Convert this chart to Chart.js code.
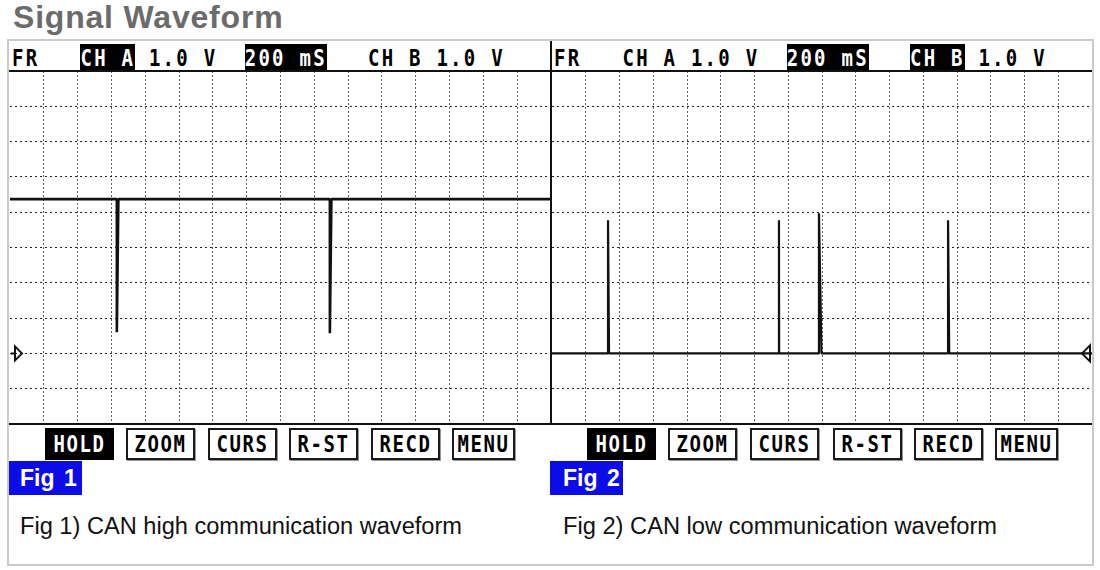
<!DOCTYPE html>
<html>
<head>
<meta charset="utf-8">
<script src="https://cdn.jsdelivr.net/npm/chart.js@4.4.1/dist/chart.umd.min.js"></script>
<style>
  html, body { margin: 0; padding: 0; background: #fff; }
  body { width: 1100px; height: 570px; position: relative; overflow: hidden; font-family: "Liberation Sans", Arial, sans-serif; }
  .abs { position: absolute; }
  #title { left: 13px; top: 1px; font-size: 32px; line-height: 32px; font-weight: bold; color: #6b6b6b; letter-spacing: 0.8px; }
  #frame { left: 7px; top: 39px; width: 1083px; height: 523px; border: 2px solid #cacaca; }
  .hdr { position: absolute; top: 44px; height: 21px; line-height: 21px; font: bold 19px "DejaVu Sans Mono", monospace; letter-spacing: 2.25px; white-space: pre; transform: scaleY(1.2); transform-origin: 0 0; color: #000; }
  .hdr .inv { display: inline-block; background: #000; color: #fff; }
  .rule { position: absolute; background: #111; z-index: 5; }
  .wrap { position: absolute; top: 71px; height: 353px; }
  .btn { position: absolute; top: 428px; height: 28px; border: 2px solid #1a1a1a; box-shadow: 1px 1px 0 #999; background: #fff; color: #000;
         display: flex; align-items: center; justify-content: center; font: bold 19px "DejaVu Sans Mono", monospace; letter-spacing: 1.6px; }
  .btn span { display: inline-block; line-height: 21px; transform: scaleY(1.2); }
  .btn.on { background: #000; color: #fff; border-color: #000; box-shadow: none; }
  .fig { position: absolute; top: 461px; height: 34px; width: 73px; background: #0c0ce6; color: #fff; font-weight: bold; font-size: 23px; line-height: 34px; box-sizing: border-box; word-spacing: 3px; }
  .cap { position: absolute; top: 514px; font-size: 23px; line-height: 24px; white-space: nowrap; color: #111; transform-origin: 0 0; }
</style>
</head>
<body>
<div id="title" class="abs">Signal Waveform</div>
<div id="frame" class="abs"></div>

<div class="wrap" style="left:10px;width:541px;"><canvas id="scopeA"></canvas></div>
<div class="wrap" style="left:552px;width:540px;"><canvas id="scopeB"></canvas></div>

<div class="rule" style="left:9px;top:70px;width:1083px;height:2px;"></div>
<div class="rule" style="left:9px;top:423px;width:1083px;height:2px;"></div>
<div class="rule" style="left:550px;top:41px;width:2px;height:383px;"></div>

<div id="hdrA" class="hdr" style="left:12px;"></div>
<div id="hdrB" class="hdr" style="left:554px;"></div>

<div id="btns"></div>

<div class="fig" style="left:9px;padding-left:11px;">Fig 1</div>
<div class="fig" style="left:550px;padding-left:13px;">Fig 2</div>

<div class="cap" style="left:20px;" data-w="442">Fig 1) CAN high communication waveform</div>
<div class="cap" style="left:563px;" data-w="434">Fig 2) CAN low communication waveform</div>

<script>
// time in ms (200 ms/div, 16 div), volts (1.0 V/div, ground at 0)
const timeA = [0, 632, 632, 641, 1892, 1892, 1901, 3200];
const voltA = [4.37, 4.37, 0.6, 4.37, 4.37, 0.57, 4.37, 4.37];

const timeB = [0, 332, 332, 338, 1345, 1345, 1346, 1582, 1582, 1597, 2347, 2347, 2354, 3200];
const voltB = [0, 0, 3.77, 0, 0, 3.77, 0, 0, 3.97, 0, 0, 3.77, 0, 0];

// header readout: [text, highlighted]
const hdrA = [['FR   ', false], ['CH A', true], [' 1.0 V  ', false], ['200 mS', true], ['   CH B 1.0 V', false]];
const hdrB = [['FR   CH A 1.0 V  ', false], ['200 mS', true], ['   ', false], ['CH B', true], [' 1.0 V', false]];

const buttons = ['HOLD', 'ZOOM', 'CURS', 'R-ST', 'RECD', 'MENU'];

function fillHeader(id, parts) {
  document.getElementById(id).innerHTML = parts.map(([t, on]) =>
    on ? `<span class="inv">${t}</span>` : t).join('');
}
fillHeader('hdrA', hdrA);
fillHeader('hdrB', hdrB);

// button boxes for both panels
const btnLeft = [[45, 126, 208, 289, 371, 452], [587, 668, 750, 833, 914, 995]];
const btnWidth = [65, 65, 65, 65, 65, 59];
document.getElementById('btns').innerHTML = btnLeft.map(row =>
  row.map((x, i) => `<div class="btn${i === 0 ? ' on' : ''}" style="left:${x}px;width:${btnWidth[i]}px;"><span>${buttons[i]}</span></div>`).join('')
).join('');

// squeeze captions to the reference width
document.querySelectorAll('.cap').forEach(el => {
  const w = el.getBoundingClientRect().width;
  el.style.transform = `scaleX(${(+el.dataset.w) / w})`;
});

// ground reference marker at 0 V
const groundMarker = {
  id: 'groundMarker',
  afterDatasetsDraw(chart, args, opts) {
    const { ctx, chartArea } = chart;
    const y = chart.scales.y.getPixelForValue(0);
    ctx.save();
    ctx.strokeStyle = '#111';
    ctx.lineWidth = 2;
    ctx.beginPath();
    if (opts.side === 'left') {
      const x = chartArea.left + 5;
      ctx.moveTo(x, y - 7); ctx.lineTo(x + 7, y); ctx.lineTo(x, y + 7); ctx.closePath();
      ctx.moveTo(x - 4, y); ctx.lineTo(x, y);
    } else {
      const x = chartArea.right - 2;
      ctx.moveTo(x, y - 8); ctx.lineTo(x - 8, y); ctx.lineTo(x, y + 8); ctx.closePath();
    }
    ctx.stroke();
    ctx.restore();
  }
};

function edgeHidden(min, max, col) {
  return c => (c.tick && (c.tick.value === min || c.tick.value === max)) ? 'rgba(0,0,0,0)' : col;
}

function scope(id, times, volts, side, width) {
  return new Chart(document.getElementById(id), {
    type: 'line',
    data: {
      datasets: [{
        data: times.map((t, i) => ({ x: t, y: volts[i] })),
        borderColor: '#111',
        borderWidth: width,
        borderJoinStyle: 'bevel',
        pointRadius: 0,
        tension: 0,
        fill: false
      }]
    },
    options: {
      responsive: true,
      maintainAspectRatio: false,
      animation: false,
      events: [],
      layout: { padding: 0 },
      plugins: {
        legend: { display: false },
        tooltip: { enabled: false },
        groundMarker: { side: side }
      },
      scales: {
        x: {
          type: 'linear', min: 0, max: 3200,
          ticks: { display: false, stepSize: 200 },
          grid: { drawTicks: false, lineWidth: 1, color: edgeHidden(0, 3200, '#5e5e5e') },
          border: { display: false, dash: [2, 2] }
        },
        y: {
          type: 'linear', min: -2, max: 8,
          ticks: { display: false, stepSize: 1 },
          grid: { drawTicks: false, lineWidth: 1, color: edgeHidden(-2, 8, '#222') },
          border: { display: false, dash: [2, 3] }
        }
      }
    },
    plugins: [groundMarker]
  });
}

scope('scopeA', timeA, voltA, 'left', 2.6);
scope('scopeB', timeB, voltB, 'right', 2.2);
</script>
</body>
</html>
